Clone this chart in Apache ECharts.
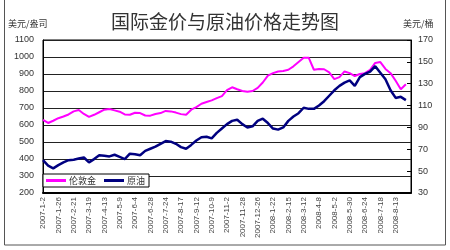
<!DOCTYPE html>
<html><head><meta charset="utf-8">
<script src="https://cdn.jsdelivr.net/npm/echarts@6/dist/echarts.min.js"></script>
<style>html,body{margin:0;padding:0;background:#fff}#c{width:450px;height:250px}</style>
</head><body><div id="c"></div>
<script>
var title = '国际金价与原油价格走势图';
var leftUnit = '美元/盎司';
var rightUnit = '美元/桶';
var seriesNames = ['伦敦金', '原油'];
// x tick labels, one every 18 trading days
var tickLabels = ['2007-1-2','2007-1-26','2007-2-21','2007-3-19','2007-4-13','2007-5-9','2007-6-4','2007-6-28','2007-7-24','2007-8-17','2007-9-12','2007-10-9','2007-11-2','2007-11-28','2007-12-26','2008-1-22','2008-2-15','2008-3-12','2008-4-8','2008-5-2','2008-5-30','2008-6-24','2008-7-18','2008-8-13'];
var tickStep = 18;
var sampleStep = 6; // trading days between samples
// London gold (USD/oz), sampled every 6 trading days
var gold = [630,612,625,640,650,662,680,688,665,648,660,675,690,694,686,678,662,660,672,670,656,655,665,670,683,680,673,664,660,690,705,725,735,745,758,770,805,822,810,800,795,800,818,850,890,905,915,918,925,945,970,995,995,925,930,928,910,870,882,915,905,888,900,905,925,965,970,930,905,860,810,840];
// Crude oil (USD/bbl), sampled every 6 trading days
var oil = [60,55,52.5,55.5,58,60,60.5,61.5,62.5,58,61,64.5,64,63.5,65,63,61,66,65.5,64.5,68.5,70.5,72.5,75,77.5,77,75,72,70.5,74,78,81,81.5,80,85,89,93,96,97,93,90,91,96,98,94,89,88,90,96,100,103,108,107,107,110,114,119,124,128,131,133,128,136,139,141,146,140,134,124,117,118,115];

function pairs(arr){ return arr.map(function(v,i){ return [i*sampleStep, v]; }); }
var font = 'Liberation Sans, Arial, Noto Sans CJK SC, sans-serif';
var chart = echarts.init(document.getElementById('c'), null, {renderer:'canvas'});
chart.setOption({
  animation:false,
  backgroundColor:'#fff',
  title:{text:title, left:'center', top:7, textStyle:{fontSize:19, fontWeight:'normal', color:'#333', fontFamily:'Noto Sans CJK SC'}},
  graphic:[
    {type:'rect', shape:{x:4.5,y:-2,width:441,height:247}, style:{fill:'none', stroke:'#555', lineWidth:1}, silent:true, z:-10},
    {type:'text', left:8, top:19, style:{text:leftUnit, font:'9px Noto Sans CJK SC', fill:'#333'}},
    {type:'text', left:403, top:19, style:{text:rightUnit, font:'9px Noto Sans CJK SC', fill:'#333'}}
  ],
  legend:{
    left:43, top:174, orient:'horizontal',
    data:seriesNames,
    backgroundColor:'#fff', borderColor:'#000', borderWidth:1, padding:[2,4,2,3],
    itemWidth:20, itemHeight:3, itemGap:8, icon:'rect',
    textStyle:{fontSize:9, color:'#333', fontFamily:'Noto Sans CJK SC', padding:[0,0,0,-2]}, z:10
  },
  grid:{left:43, right:39, top:40, bottom:57, show:true, borderColor:'#000', borderWidth:1, backgroundColor:'transparent'},
  xAxis:{
    type:'value', min:0, max:432, interval:tickStep,
    axisLine:{show:true, lineStyle:{color:'#000', width:2}},
    axisTick:{show:false},
    splitLine:{show:false},
    axisLabel:{rotate:90, fontSize:8, color:'#444', margin:4, fontFamily:font,
      formatter:function(v){ var i=Math.round(v/tickStep); return tickLabels[i]||''; }}
  },
  yAxis:[
    {type:'value', min:200, max:1100, interval:100, position:'left',
     axisLine:{show:true, lineStyle:{color:'#000'}}, axisTick:{show:false},
     splitLine:{show:true, lineStyle:{color:'#222', width:1}},
     axisLabel:{fontSize:9, color:'#333', margin:9, fontFamily:font, formatter:function(v){return String(v);}}},
    {type:'value', min:30, max:170, interval:20, position:'right',
     axisLine:{show:true, lineStyle:{color:'#000'}}, axisTick:{show:true, inside:true, length:4, lineStyle:{color:'#000'}},
     splitLine:{show:false},
     axisLabel:{fontSize:9, color:'#333', margin:7, fontFamily:font}}
  ],
  series:[
    {name:seriesNames[0], type:'line', yAxisIndex:0, data:pairs(gold), showSymbol:false, lineStyle:{color:'#FF00FF', width:2}, itemStyle:{color:'#FF00FF'}},
    {name:seriesNames[1], type:'line', yAxisIndex:1, data:pairs(oil), showSymbol:false, lineStyle:{color:'#000080', width:2.5}, itemStyle:{color:'#000080'}}
  ]
});
</script></body></html>
